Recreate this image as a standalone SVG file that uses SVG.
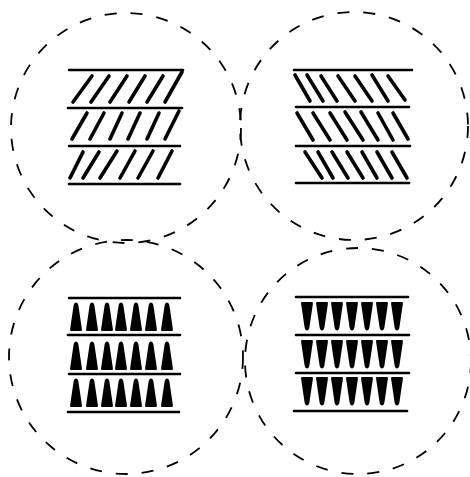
<svg xmlns="http://www.w3.org/2000/svg" xmlns:xlink="http://www.w3.org/1999/xlink" width="470" height="477" viewBox="0 0 470 477">
<style>
.c{fill:none;stroke:#000;stroke-width:1.8;stroke-dasharray:12 14}
.h{stroke:#000;stroke-width:2.6;stroke-linecap:round}
.s{stroke:#000;stroke-width:3.6;stroke-linecap:round}
</style>
<defs>
<path id="up" d="M-5.2,0 C-6,0 -6,-1.2 -5.8,-2.4 L-2.4,-25.5 C-1.7,-29.5 1.7,-29.5 2.4,-25.5 L5.8,-2.4 C6,-1.2 6,0 5.2,0 Z" fill="#000"/>
<path id="dn" d="M-5.2,0 C-6,0 -6,1.2 -5.8,2.4 L-2.4,25.5 C-1.7,29.5 1.7,29.5 2.4,25.5 L5.8,2.4 C6,1.2 6,0 5.2,0 Z" fill="#000"/>
</defs>
<g id="node-top-left">
<circle class="c" cx="126" cy="128" r="115"/>
<g class="h">
<line x1="69" y1="70" x2="183" y2="70"/>
<line x1="68" y1="108" x2="182" y2="108"/>
<line x1="69" y1="146" x2="180" y2="146"/>
<line x1="69" y1="184" x2="180" y2="184"/>
</g>
<g class="s">
<line x1="73" y1="102" x2="92" y2="76"/>
<line x1="91" y1="102" x2="109" y2="76"/>
<line x1="110" y1="102" x2="127" y2="76"/>
<line x1="129" y1="102" x2="145" y2="76"/>
<line x1="147" y1="102" x2="163" y2="76"/>
<line x1="165" y1="102" x2="182" y2="72"/>
<line x1="72" y1="139" x2="87" y2="113"/>
<line x1="90" y1="139" x2="104" y2="113"/>
<line x1="110" y1="139" x2="122" y2="113"/>
<line x1="128" y1="139" x2="140" y2="113"/>
<line x1="147" y1="139" x2="159" y2="113"/>
<line x1="165" y1="139" x2="179" y2="111"/>
<line x1="70" y1="178" x2="83" y2="152"/>
<line x1="83" y1="178" x2="99" y2="152"/>
<line x1="100" y1="178" x2="117" y2="151"/>
<line x1="120" y1="178" x2="135" y2="151"/>
<line x1="138" y1="178" x2="153" y2="151"/>
<line x1="158" y1="178" x2="172" y2="151"/>
</g>
</g>
<g id="node-top-right">
<circle class="c" cx="354" cy="126" r="114"/>
<g class="h">
<line x1="294" y1="70" x2="412" y2="70"/>
<line x1="296" y1="107" x2="409" y2="107"/>
<line x1="296" y1="146" x2="410" y2="146"/>
<line x1="296" y1="183" x2="409" y2="183"/>
</g>
<g class="s">
<line x1="295" y1="75" x2="310" y2="101"/>
<line x1="307" y1="75" x2="323" y2="101"/>
<line x1="321" y1="76" x2="337" y2="101"/>
<line x1="338" y1="76" x2="355" y2="101"/>
<line x1="355" y1="76" x2="372" y2="101"/>
<line x1="372" y1="75" x2="388" y2="101"/>
<line x1="388" y1="76" x2="405" y2="100"/>
<line x1="297" y1="113" x2="313" y2="140"/>
<line x1="313" y1="113" x2="330" y2="140"/>
<line x1="330" y1="113" x2="347" y2="140"/>
<line x1="345" y1="112" x2="363" y2="140"/>
<line x1="361" y1="112" x2="378" y2="140"/>
<line x1="378" y1="113" x2="393" y2="140"/>
<line x1="393" y1="113" x2="408" y2="139"/>
<line x1="305" y1="152" x2="322" y2="178"/>
<line x1="318" y1="152" x2="333" y2="178"/>
<line x1="332" y1="152" x2="348" y2="178"/>
<line x1="347" y1="152" x2="363" y2="178"/>
<line x1="362" y1="152" x2="377" y2="178"/>
<line x1="377" y1="152" x2="392" y2="178"/>
<line x1="392" y1="152" x2="407" y2="178"/>
</g>
</g>
<g id="node-bottom-left">
<circle class="c" cx="126" cy="357" r="117"/>
<g class="h">
<line x1="69" y1="298" x2="180" y2="298"/>
<line x1="68" y1="335" x2="180" y2="335"/>
<line x1="69" y1="374" x2="180" y2="374"/>
<line x1="68" y1="412" x2="179" y2="412"/>
</g>
<use xlink:href="#up" x="76" y="331"/><use xlink:href="#up" x="92" y="331"/><use xlink:href="#up" x="107" y="331"/><use xlink:href="#up" x="121" y="331"/><use xlink:href="#up" x="136" y="331"/><use xlink:href="#up" x="151" y="331"/><use xlink:href="#up" x="167" y="331"/>
<use xlink:href="#up" x="76" y="370"/><use xlink:href="#up" x="92" y="370"/><use xlink:href="#up" x="107" y="370"/><use xlink:href="#up" x="121" y="370"/><use xlink:href="#up" x="136" y="370"/><use xlink:href="#up" x="151" y="370"/><use xlink:href="#up" x="167" y="370"/>
<use xlink:href="#up" x="76" y="407"/><use xlink:href="#up" x="92" y="407"/><use xlink:href="#up" x="107" y="407"/><use xlink:href="#up" x="121" y="407"/><use xlink:href="#up" x="136" y="407"/><use xlink:href="#up" x="151" y="407"/><use xlink:href="#up" x="167" y="407"/>
</g>
<g id="node-bottom-right">
<circle class="c" cx="358" cy="361" r="113"/>
<g class="h">
<line x1="296" y1="297" x2="408" y2="297"/>
<line x1="296" y1="335" x2="409" y2="335"/>
<line x1="296" y1="373" x2="409" y2="373"/>
<line x1="294" y1="411" x2="407" y2="411"/>
</g>
<use xlink:href="#dn" x="307" y="302"/><use xlink:href="#dn" x="322" y="302"/><use xlink:href="#dn" x="337" y="302"/><use xlink:href="#dn" x="352" y="302"/><use xlink:href="#dn" x="367" y="302"/><use xlink:href="#dn" x="382" y="302"/><use xlink:href="#dn" x="397" y="302"/>
<use xlink:href="#dn" x="307" y="340"/><use xlink:href="#dn" x="322" y="340"/><use xlink:href="#dn" x="337" y="340"/><use xlink:href="#dn" x="352" y="340"/><use xlink:href="#dn" x="367" y="340"/><use xlink:href="#dn" x="382" y="340"/><use xlink:href="#dn" x="397" y="340"/>
<use xlink:href="#dn" x="307" y="377"/><use xlink:href="#dn" x="322" y="377"/><use xlink:href="#dn" x="337" y="377"/><use xlink:href="#dn" x="352" y="377"/><use xlink:href="#dn" x="367" y="377"/><use xlink:href="#dn" x="382" y="377"/><use xlink:href="#dn" x="397" y="377"/>
</g>
<g id="connectors"/>
</svg>
